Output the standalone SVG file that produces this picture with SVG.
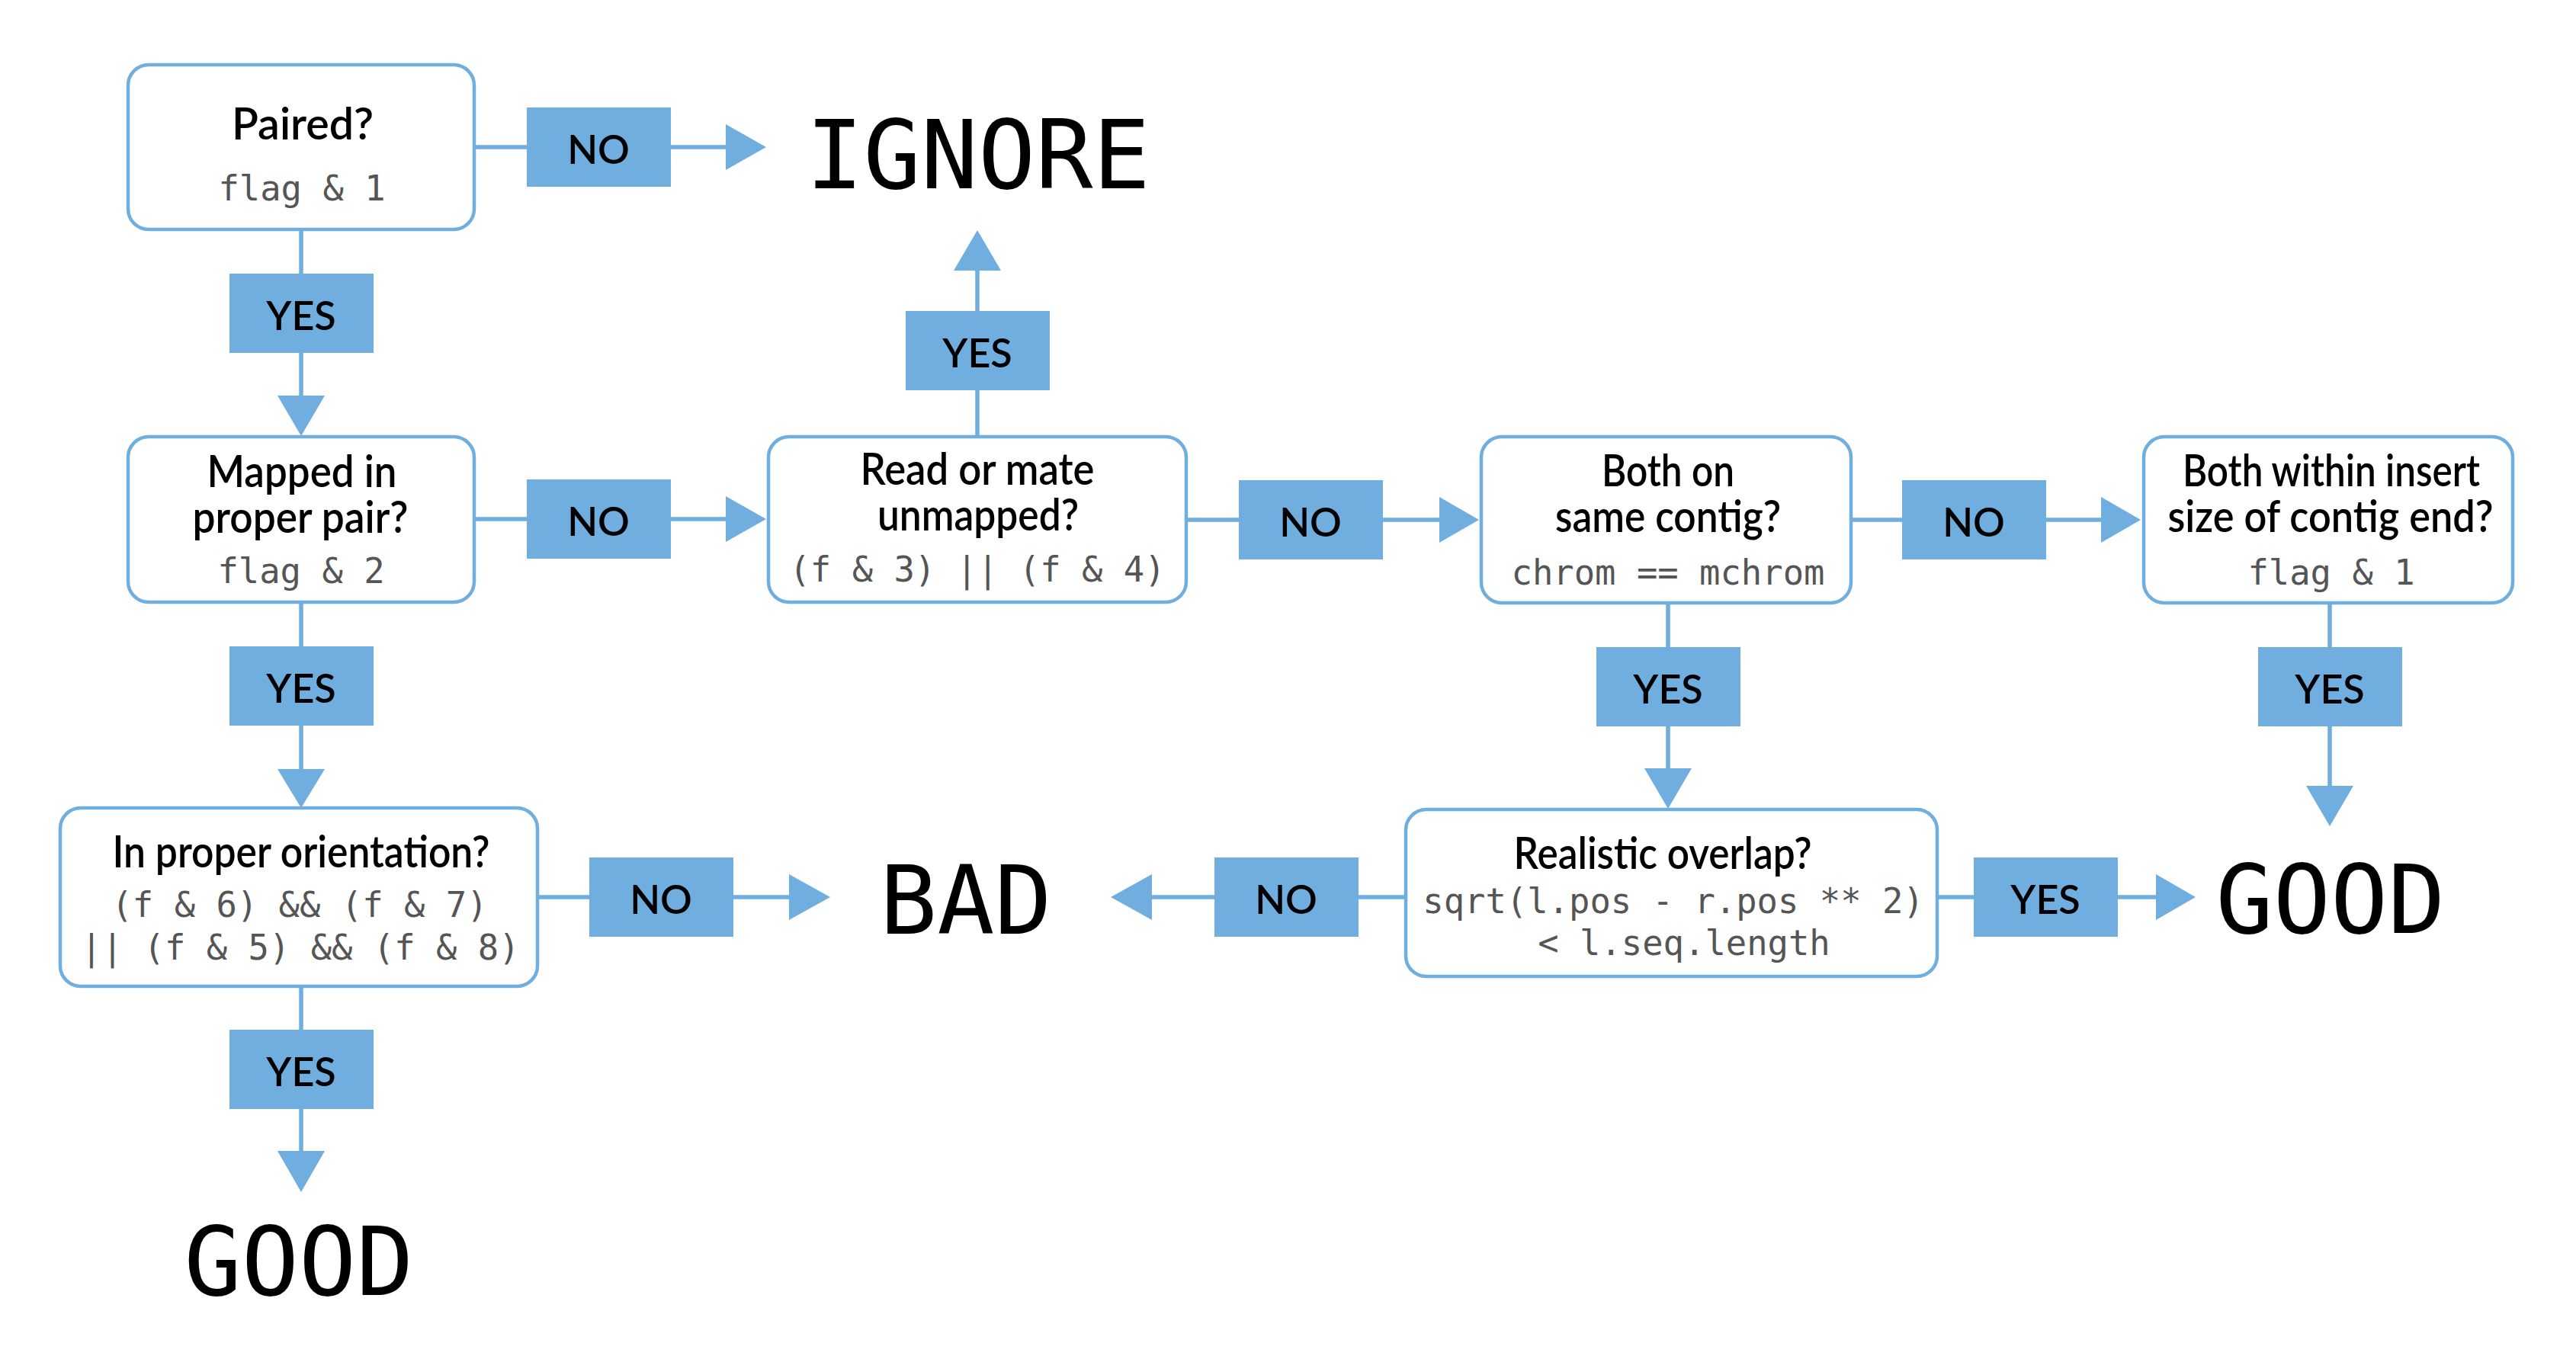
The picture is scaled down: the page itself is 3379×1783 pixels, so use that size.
<svg xmlns="http://www.w3.org/2000/svg" width="3379" height="1783" viewBox="0 0 3379 1783">
<style>
.node{fill:#fff;stroke:#6FAEDF;stroke-width:4.5}
.ln{stroke:#6FAEDF;stroke-width:5.5;fill:none}
.ah{fill:#6FAEDF}
.lb{fill:#6FAEDF}
.lt{font-family:Lato,"Noto Sans",sans-serif;font-weight:600;font-size:52px;fill:#000;text-anchor:middle}
.t{font-family:Lato,"Noto Sans",sans-serif;font-weight:600;font-size:58px;fill:#000;text-anchor:middle}
.c{font-family:"DejaVu Sans Mono","Liberation Mono",monospace;font-size:45.5px;fill:#555;text-anchor:middle}
.big{font-family:"DejaVu Sans Mono","Liberation Mono",monospace;font-size:125px;fill:#000;text-anchor:middle}
</style>
<rect width="3379" height="1783" fill="#fff"/>
<g id="connectors">
<path class="ln" d="M622 193H952M395 301V519M622 681H952M1282 573V355M1556 682H1888M2428 682H2756M2188 791V1008M3056 791V1031M395 790V1009M705 1177H1035M1844 1177H1511M2541 1177H2828M395 1294V1510"/>
<polygon class="ah" points="952,163 1005,193 952,223"/>
<polygon class="ah" points="364,519 426,519 395,572"/>
<polygon class="ah" points="952,651 1005,681 952,711"/>
<polygon class="ah" points="1251,355 1313,355 1282,302"/>
<polygon class="ah" points="1888,652 1940,682 1888,712"/>
<polygon class="ah" points="2756,652 2808,682 2756,712"/>
<polygon class="ah" points="2157,1008 2219,1008 2188,1061"/>
<polygon class="ah" points="3025,1031 3087,1031 3056,1084"/>
<polygon class="ah" points="364,1009 426,1009 395,1060"/>
<polygon class="ah" points="1035,1147 1089,1177 1035,1207"/>
<polygon class="ah" points="1511,1147 1457,1177 1511,1207"/>
<polygon class="ah" points="2828,1147 2880,1177 2828,1207"/>
<polygon class="ah" points="364,1510 426,1510 395,1564"/>
<g id="labels">
<rect class="lb" x="691" y="141" width="189" height="104"/><text class="lt" x="785" y="215">NO</text>
<rect class="lb" x="301" y="359" width="189" height="104"/><text class="lt" x="395" y="433">YES</text>
<rect class="lb" x="691" y="629" width="189" height="104"/><text class="lt" x="785" y="703">NO</text>
<rect class="lb" x="1188" y="408" width="189" height="104"/><text class="lt" x="1282" y="482">YES</text>
<rect class="lb" x="1625" y="630" width="189" height="104"/><text class="lt" x="1719" y="704">NO</text>
<rect class="lb" x="2495" y="630" width="189" height="104"/><text class="lt" x="2589" y="704">NO</text>
<rect class="lb" x="2094" y="849" width="189" height="104"/><text class="lt" x="2188" y="923">YES</text>
<rect class="lb" x="2962" y="849" width="189" height="104"/><text class="lt" x="3056" y="923">YES</text>
<rect class="lb" x="301" y="848" width="189" height="104"/><text class="lt" x="395" y="922">YES</text>
<rect class="lb" x="773" y="1125" width="189" height="104"/><text class="lt" x="867" y="1199">NO</text>
<rect class="lb" x="1593" y="1125" width="189" height="104"/><text class="lt" x="1687" y="1199">NO</text>
<rect class="lb" x="2589" y="1125" width="189" height="104"/><text class="lt" x="2683" y="1199">YES</text>
<rect class="lb" x="301" y="1351" width="189" height="104"/><text class="lt" x="395" y="1425">YES</text>
</g>
</g>
<g id="paired">
<rect class="node" x="168" y="85" width="454" height="216" rx="27"/>
<text class="t" x="397" y="183" textLength="186" lengthAdjust="spacingAndGlyphs">Paired?</text>
<text class="c" x="396" y="263">flag &amp; 1</text>
</g>
<g id="mapped">
<rect class="node" x="168" y="573" width="454" height="217" rx="27"/>
<text class="t" x="396" y="639" textLength="249" lengthAdjust="spacingAndGlyphs">Mapped in</text>
<text class="t" x="394" y="699" textLength="283" lengthAdjust="spacingAndGlyphs">proper pair?</text>
<text class="c" x="395" y="765">flag &amp; 2</text>
</g>
<g id="unmapped">
<rect class="node" x="1008" y="573" width="548" height="217" rx="27"/>
<text class="t" x="1282" y="636" textLength="307" lengthAdjust="spacingAndGlyphs">Read or mate</text>
<text class="t" x="1283" y="696" textLength="264" lengthAdjust="spacingAndGlyphs">unmapped?</text>
<text class="c" x="1282" y="763">(f &amp; 3) || (f &amp; 4)</text>
</g>
<g id="contig">
<rect class="node" x="1943" y="573" width="485" height="218" rx="27"/>
<text class="t" x="2188" y="638" textLength="174" lengthAdjust="spacingAndGlyphs">Both on</text>
<text class="t" x="2188" y="698" textLength="296" lengthAdjust="spacingAndGlyphs">same contig?</text>
<text class="c" x="2188" y="767">chrom == mchrom</text>
</g>
<g id="insert">
<rect class="node" x="2812" y="573" width="484" height="218" rx="27"/>
<text class="t" x="3058" y="638" textLength="390" lengthAdjust="spacingAndGlyphs">Both within insert</text>
<text class="t" x="3057" y="698" textLength="427" lengthAdjust="spacingAndGlyphs">size of contig end?</text>
<text class="c" x="3058" y="767">flag &amp; 1</text>
</g>
<g id="orientation">
<rect class="node" x="79" y="1060" width="626" height="234" rx="27"/>
<text class="t" x="395" y="1138" textLength="495" lengthAdjust="spacingAndGlyphs">In proper orientation?</text>
<text class="c" x="393" y="1203">(f &amp; 6) &amp;&amp; (f &amp; 7)</text>
<text class="c" x="394" y="1259">|| (f &amp; 5) &amp;&amp; (f &amp; 8)</text>
</g>
<g id="overlap">
<rect class="node" x="1844" y="1062" width="697" height="219" rx="27"/>
<text class="t" x="2181" y="1140" textLength="391" lengthAdjust="spacingAndGlyphs">Realistic overlap?</text>
<text class="c" x="2195" y="1198">sqrt(l.pos - r.pos ** 2)</text>
<text class="c" x="2209" y="1253">&lt; l.seq.length</text>
</g>
<g id="ignore"><text class="big" x="1283" y="247">IGNORE</text></g>
<g id="bad"><text class="big" x="1267" y="1225">BAD</text></g>
<g id="good1"><text class="big" x="3057" y="1224">GOOD</text></g>
<g id="good2"><text class="big" x="392" y="1699">GOOD</text></g>
</svg>
